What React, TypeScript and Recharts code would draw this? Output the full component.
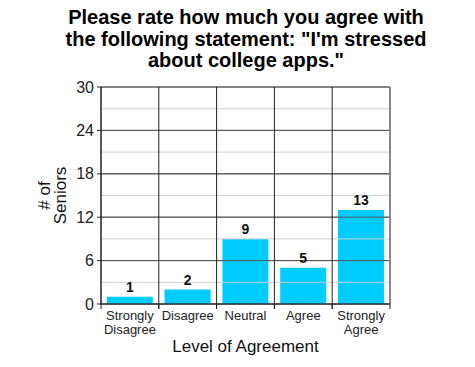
import { BarChart, Bar, XAxis, YAxis, CartesianGrid, ReferenceLine, LabelList, Label } from 'recharts';

const titleLines = ['Please rate how much you agree with', 'the following statement: "I\'m stressed', 'about college apps."'];
const categories = ['Strongly Disagree', 'Disagree', 'Neutral', 'Agree', 'Strongly Agree'];
const seniors = [1, 2, 9, 5, 13];
const majorTicks = [0, 6, 12, 18, 24, 30];
const minorTicks = [3, 9, 15, 21, 27];

const data = categories.map((name, i) => ({ name, value: seniors[i] }));
const font = 'Liberation Sans, Arial, sans-serif';

function CategoryTick(props: any) {
  const { x, y, payload } = props;
  const off = payload.offset ?? 0;
  const lines = String(payload.value).split(' ');
  return (
    <g>
      <line x1={x - off} x2={x - off} y1={y} y2={y + 5} stroke="#222" />
      <line x1={x + off} x2={x + off} y1={y} y2={y + 5} stroke="#222" />
      {lines.map((l, i) => (
        <text key={i} x={x} y={y + 16 + i * 14} textAnchor="middle" fontSize={13} fill="#222" fontFamily={font}>
          {l}
        </text>
      ))}
    </g>
  );
}

export default function App() {
  return (
    <div style={{ position: 'absolute', left: 0, top: 0, width: 475, height: 367, background: '#fff', fontFamily: font }}>
      <div
        style={{
          position: 'absolute',
          left: 46,
          top: 7,
          width: 400,
          textAlign: 'center',
          fontWeight: 'bold',
          fontSize: 20,
          lineHeight: '21.5px',
          color: '#000',
        }}
      >
        {titleLines.map((t, i) => (
          <div key={i}>{t}</div>
        ))}
      </div>
      <BarChart width={475} height={367} data={data} margin={{ top: 87, right: 85, left: 0, bottom: 0 }} barCategoryGap="10%">
        <CartesianGrid vertical={false} stroke="#666" />
        {minorTicks.map((v) => (
          <ReferenceLine key={v} y={v} stroke="#cfcfcf" />
        ))}
        {majorTicks.map((v) => (
          <ReferenceLine key={'m' + v} y={v} stroke="#555" />
        ))}
        {categories.map((c) => (
          <ReferenceLine key={'c' + c} x={c} position="start" stroke="#222" />
        ))}
        <ReferenceLine x={categories[categories.length - 1]} position="end" stroke="#888" strokeWidth={2} />
        <XAxis
          dataKey="name"
          height={63}
          interval={0}
          tickLine={false}
          tickSize={0}
          tickMargin={0}
          axisLine={{ stroke: '#222' }}
          tick={<CategoryTick />}
        >
          <Label
            content={(p: any) => {
              const vb = p.viewBox;
              return (
                <text x={vb.x + vb.width / 2} y={vb.y + 48} textAnchor="middle" fontSize={17} fill="#111" fontFamily={font}>
                  Level of Agreement
                </text>
              );
            }}
          />
        </XAxis>
        <YAxis
          width={101}
          domain={[0, 30]}
          ticks={majorTicks}
          interval={0}
          tickSize={4}
          tickMargin={3}
          tickLine={{ stroke: '#222' }}
          axisLine={{ stroke: '#222' }}
          tick={{ fontSize: 16, fill: '#222', fontFamily: font }}
        >
          <Label
            content={(p: any) => {
              const vb = p.viewBox;
              const cy = vb.y + vb.height / 2;
              return (
                <g>
                  <text x={50} y={cy} transform={`rotate(-90, 50, ${cy})`} textAnchor="middle" fontSize={17} fill="#111" fontFamily={font}>
                    # of
                  </text>
                  <text x={66} y={cy} transform={`rotate(-90, 66, ${cy})`} textAnchor="middle" fontSize={17} fill="#111" fontFamily={font}>
                    Seniors
                  </text>
                </g>
              );
            }}
          />
        </YAxis>
        <Bar dataKey="value" fill="#00CCFF" isAnimationActive={false}>
          <LabelList dataKey="value" position="top" offset={5} fontSize={14} fontWeight="bold" fill="#111" fontFamily={font} />
        </Bar>
      </BarChart>
    </div>
  );
}
